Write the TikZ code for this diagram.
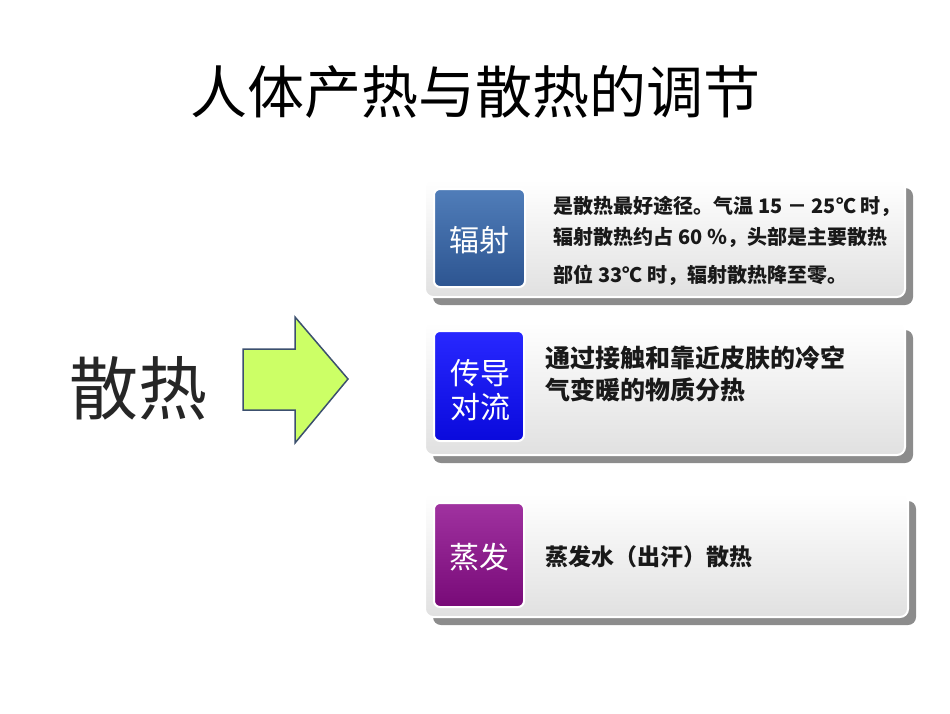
\documentclass[tikz,border=0pt]{standalone}
\usepackage{fontspec}
\newfontfamily\cjk{Noto Sans CJK SC}
\usetikzlibrary{positioning}
\begin{document}
\begin{tikzpicture}[x=1pt,y=-1pt,
 card/.style={draw=white,line width=2pt,rounded corners=8pt,top color=white,bottom color=black!12},
 shadow/.style={fill=black!45,rounded corners=8pt},
 icon/.style={draw=white,line width=2pt,rounded corners=6pt},
 itext/.style={font=\cjk\fontsize{30}{34}\selectfont,text=white,align=center},
 btext/.style={anchor=west,align=left,text=black!90}]
\useasboundingbox (0,0) rectangle (950,713);
\node (title) at (475,92) {\cjk\fontsize{57}{60}\selectfont 人体产热与散热的调节};
\node (san) at (138,388) {\cjk\fontsize{69}{72}\selectfont\color{black!85} 散热};
\draw[draw={rgb,255:red,60;green,80;blue,110},line width=1.5pt,fill={rgb,255:red,204;green,255;blue,102}]
 (243,349) -- (295,349) -- (295,317) -- (348,379) -- (295,443) -- (295,410) -- (243,410) -- cycle;
% card 1
\fill[shadow] (433,188) rectangle (913,305);
\draw[card] (425,180) rectangle (905,297);
\draw[icon,top color={rgb,255:red,80;green,125;blue,185},bottom color={rgb,255:red,45;green,85;blue,145}] (434,189) rectangle (525,287);
\node[itext] (i1) at (479.5,240) {辐射};
\node[btext,font=\cjk\bfseries\fontsize{20}{31}\selectfont] (t1) at (550,241) {是散热最好途径。气温 15 － 25℃ 时，\\辐射散热约占 60 ％，头部是主要散热\\[7pt]部位 33℃ 时，辐射散热降至零。};
% card 2
\fill[shadow] (433,330) rectangle (913,463);
\draw[card] (425,322) rectangle (905,455);
\draw[icon,top color={rgb,255:red,40;green,40;blue,255},bottom color={rgb,255:red,10;green,10;blue,220}] (434,331) rectangle (524,441);
\node[itext] (i2) at (480,390) {传导\\对流};
\node[btext,font=\cjk\bfseries\fontsize{25}{32}\selectfont] (t2) at (542,374) {通过接触和靠近皮肤的冷空\\气变暖的物质分热};
% card 3
\fill[shadow] (433,501) rectangle (916,625);
\draw[card] (425,493) rectangle (908,617);
\draw[icon,top color={rgb,255:red,160;green,50;blue,160},bottom color={rgb,255:red,120;green,10;blue,120}] (434,503) rectangle (524,607);
\node[itext] (i3) at (479,557) {蒸发};
\node[btext,font=\cjk\bfseries\fontsize{23}{32}\selectfont] (t3) at (542,557) {蒸发水（出汗）散热};
\end{tikzpicture}
\end{document}
